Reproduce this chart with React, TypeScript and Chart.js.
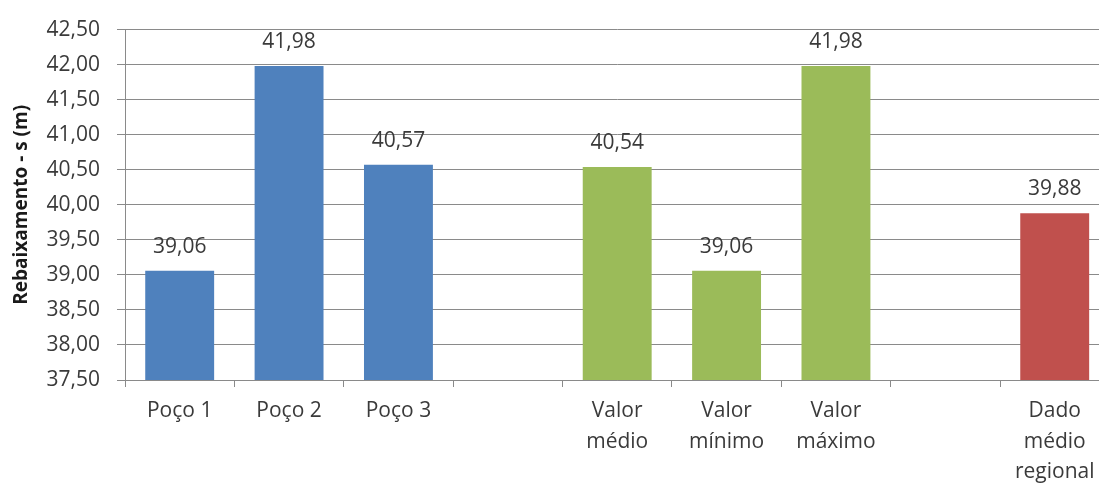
import React, { useEffect, useRef } from 'react';
import { Chart, registerables } from 'chart.js';

Chart.register(...registerables);

const categories: (string | string[])[] = [
  'Poço 1',
  'Poço 2',
  'Poço 3',
  '',
  ['Valor', 'médio'],
  ['Valor', 'mínimo'],
  ['Valor', 'máximo'],
  '',
  ['Dado', 'médio', 'regional'],
];
const values: (number | null)[] = [39.06, 41.98, 40.57, null, 40.54, 39.06, 41.98, null, 39.88];
const barColors = ['#4F81BD', '#4F81BD', '#4F81BD', '#4F81BD', '#9BBB59', '#9BBB59', '#9BBB59', '#9BBB59', '#C0504D'];
const yMin = 37.5;
const yMax = 42.5;
const yStep = 0.5;
const yTitle = 'Rebaixamento - s (m)';

const FONT = '"Open Sans", "DejaVu Sans", sans-serif';
const TEXT = '#3a3a3a';
const GRID = '#8a8a8a';

const fmt = (v: number) => v.toFixed(2).replace('.', ',');

const valueLabelPlugin = {
  id: 'valueLabels',
  afterDatasetsDraw(chart: any) {
    const ctx = chart.ctx;
    const meta = chart.getDatasetMeta(0);
    ctx.save();
    ctx.font = `21px ${FONT}`;
    ctx.fillStyle = TEXT;
    ctx.textAlign = 'center';
    ctx.textBaseline = 'middle';
    meta.data.forEach((el: any, i: number) => {
      const v = values[i];
      if (v == null) return;
      ctx.fillText(fmt(v), el.x, el.y - 24);
    });
    ctx.restore();
  },
};

export default function App() {
  const canvasRef = useRef<HTMLCanvasElement | null>(null);

  useEffect(() => {
    if (!canvasRef.current) return;
    const chart = new Chart(canvasRef.current, {
      type: 'bar',
      data: {
        labels: categories,
        datasets: [
          {
            data: values,
            backgroundColor: barColors,
            borderWidth: 0,
            categoryPercentage: 1,
            barPercentage: 0.63,
          },
        ],
      },
      options: {
        responsive: false,
        animation: false,
        layout: { padding: { top: 22, right: 10.6, left: 0, bottom: 0 } },
        plugins: {
          legend: { display: false },
          tooltip: { enabled: false },
        },
        scales: {
          x: {
            offset: true,
            grid: {
              display: true,
              offset: true,
              drawOnChartArea: false,
              drawTicks: true,
              tickLength: 7,
              color: GRID,
            },
            border: { display: true, color: GRID, width: 1 },
            ticks: {
              color: TEXT,
              font: { family: FONT, size: 21, lineHeight: 1.45 },
              padding: 9,
              maxRotation: 0,
              autoSkip: false,
            },
            afterFit: (scale: any) => {
              scale.height = 105;
            },
          },
          y: {
            min: yMin,
            max: yMax,
            grid: {
              color: GRID,
              tickLength: 8,
              drawTicks: true,
            },
            border: { display: true, color: GRID, width: 1 },
            ticks: {
              stepSize: yStep,
              color: TEXT,
              font: { family: FONT, size: 21 },
              padding: 17,
              callback: (v: any) => fmt(Number(v)),
            },
            title: {
              display: true,
              text: yTitle,
              color: '#1a1a1a',
              font: { family: FONT, size: 19, weight: 'bold' },
              padding: { top: 10, bottom: 0 },
            },
            afterFit: (scale: any) => {
              scale.width = 125;
            },
          },
        },
      },
      plugins: [valueLabelPlugin],
    });
    return () => chart.destroy();
  }, []);

  return (
    <div
      style={{
        position: 'fixed',
        left: 0,
        top: 0,
        width: 1099,
        height: 485,
        overflow: 'hidden',
        background: '#fff',
      }}
    >
      <canvas ref={canvasRef} width={1120} height={485} style={{ width: 1120, height: 485, display: 'block' }} />
    </div>
  );
}
